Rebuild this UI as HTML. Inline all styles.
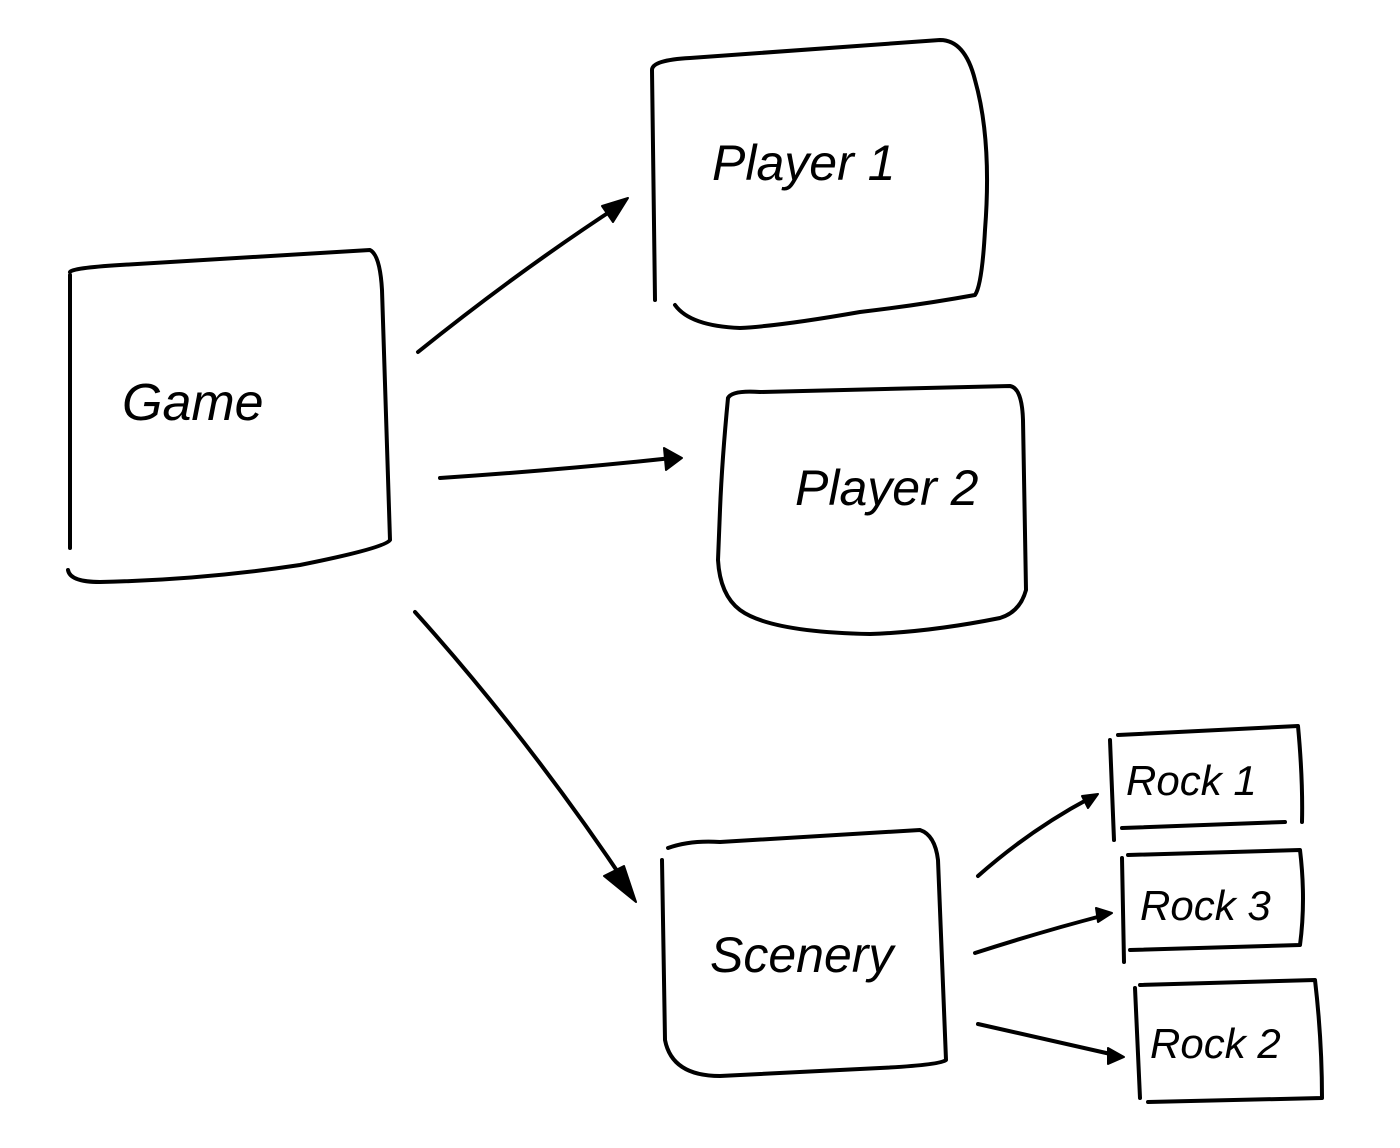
<!DOCTYPE html>
<html><head><style>
html,body{margin:0;padding:0;background:#fff;}
svg{display:block}
text{font-family:"Liberation Sans",sans-serif;fill:#000;font-style:italic}
</style></head><body>
<svg width="1400" height="1148" viewBox="0 0 1400 1148" xmlns="http://www.w3.org/2000/svg">
<g fill="none" stroke="#000" stroke-width="4" stroke-linecap="round" stroke-linejoin="round">
<!-- Game -->
<path d="M70 272 Q72 268 120 265 L370 250 Q380 255 382 290 L390 540 Q385 548 300 565 Q200 580 100 582 Q70 582 68 570"/>
<path d="M70 275 L70 548"/>
<!-- Player 1 -->
<path d="M655 300 L652 70 Q652 60 690 58 L940 40 Q965 40 975 80 Q992 140 985 230 Q982 285 975 295 Q920 305 860 312 Q780 326 740 328 Q690 326 675 305"/>
<!-- Player 2 -->
<path d="M728 398 Q732 390 760 392 L1010 386 Q1022 388 1023 420 L1026 590 Q1020 612 1000 618 Q930 632 870 634 Q770 632 740 610 Q720 595 718 560 L720 510 Q722 460 728 398"/>
<!-- Scenery -->
<path d="M668 848 Q690 840 720 842 L920 830 Q935 835 938 860 L946 1060 Q940 1065 880 1068 L720 1076 Q672 1076 665 1040 L662 860"/>
<!-- Rock 1 -->
<path d="M1110 740 L1114 840"/>
<path d="M1118 735 L1298 726 Q1303 780 1302 822"/>
<path d="M1122 828 L1285 822"/>
<!-- Rock 3 -->
<path d="M1122 858 L1124 962"/>
<path d="M1128 855 L1300 850 Q1306 900 1300 945 L1130 950"/>
<!-- Rock 2 -->
<path d="M1135 988 L1140 1098"/>
<path d="M1140 985 L1315 980 Q1322 1040 1322 1098 L1148 1102"/>
<!-- arrows -->
<path d="M418 352 Q520 270 620 205"/>
<path d="M440 478 Q560 470 672 458"/>
<path d="M415 612 Q530 740 630 890"/>
<path d="M978 876 Q1030 830 1090 798"/>
<path d="M975 953 Q1040 932 1105 915"/>
<path d="M978 1024 Q1050 1040 1115 1055"/>
</g>
<g fill="#000" stroke="#000" stroke-width="2" stroke-linejoin="round">
<path d="M628 198 L602 206 L613 222 Z"/>
<path d="M682 458 L664 448 L666 470 Z"/>
<path d="M636 902 L604 876 L624 866 Z"/>
<path d="M1098 794 L1082 796 L1088 808 Z"/>
<path d="M1112 913 L1096 908 L1098 922 Z"/>
<path d="M1124 1057 L1108 1048 L1108 1064 Z"/>
</g>
<text x="122" y="420" font-size="52">Game</text>
<text x="712" y="180" font-size="50">Player 1</text>
<text x="795" y="505" font-size="50">Player 2</text>
<text x="710" y="972" font-size="50">Scenery</text>
<text x="1126" y="795" font-size="42">Rock 1</text>
<text x="1140" y="920" font-size="42">Rock 3</text>
<text x="1150" y="1058" font-size="42">Rock 2</text>
</svg>
</body></html>
